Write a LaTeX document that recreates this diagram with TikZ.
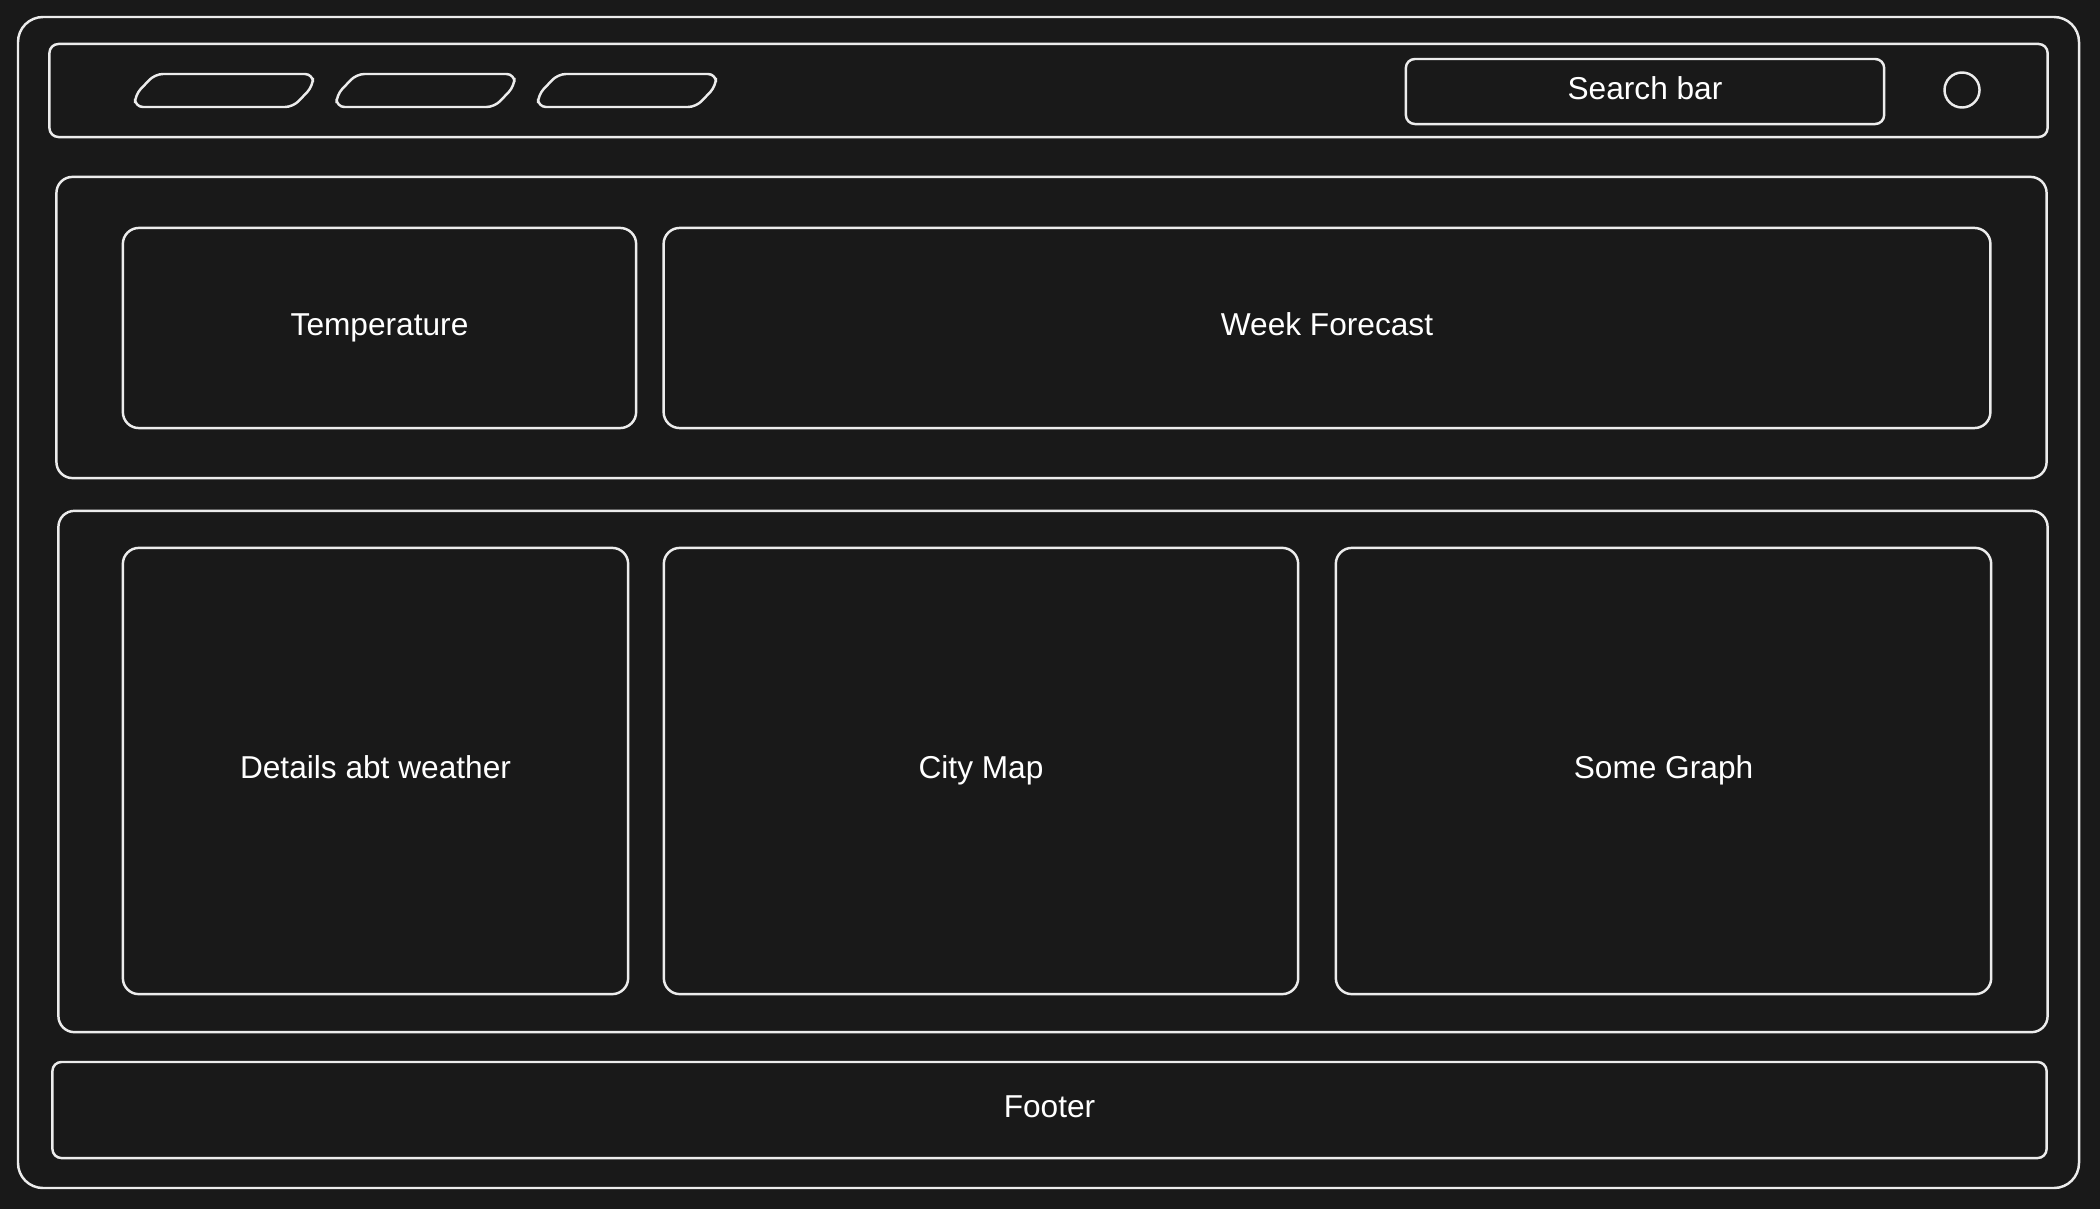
\documentclass[tikz,border=0pt]{standalone}
\usepackage{fontspec}
\setmainfont{Liberation Sans}
\usepackage{xcolor}
\usepackage{tikz}
\usetikzlibrary{positioning}
\definecolor{SketchBg}{RGB}{25,25,25}
\definecolor{SketchLine}{RGB}{236,236,236}
\tikzset{
    frame/.style={draw=SketchLine, line width=0.7pt, rounded corners=2.5mm},
    panel/.style={rectangle, draw=SketchLine, line width=0.7pt, rounded corners=1.6mm, text=white, font=\fontsize{9}{11}\selectfont, inner sep=0pt, text height=6.5pt, text depth=2.2pt},
    bar/.style={panel, rounded corners=0.9mm},
    tab/.style={draw=SketchLine, line width=0.7pt, rounded corners=0.8mm}
}
\begin{document}
\begin{tikzpicture}[x=0.01cm, y=-0.01cm]
                % Nền tối
                \fill[SketchBg] (0,0) rectangle (2100,1209);
                \useasboundingbox (0,0) rectangle (2100,1209);
                % Khung ngoài
                \draw[frame] (18,17) rectangle (2079,1188);
                % Thanh điều hướng
                \node[bar, minimum width=19.97cm, minimum height=0.93cm] (nav) at (1048.5,90.5) {};
                \foreach \x in {135,336.5,538} {
                    \draw[tab] (\x,107) -- ++(0,-12) -- ++(20,-21) -- ++(158,0) -- ++(0,12) -- ++(-20,21) -- cycle;
                }
                \node[bar, minimum width=4.78cm, minimum height=0.65cm] (search) at (1645,91.5) {Search bar};
                \node[circle, draw=SketchLine, line width=0.7pt, minimum size=0.35cm, inner sep=0pt] (avatar) at (1962,90) {};
                % Hàng trên
                \node[panel, minimum width=19.89cm, minimum height=3.01cm] (top) at (1051.5,327.5) {};
                \node[panel, minimum width=5.13cm, minimum height=2.0cm] (temp) at (379.5,328) {Temperature};
                \node[panel, minimum width=13.26cm, minimum height=2.0cm] (week) at (1327,328) {Week Forecast};
                % Hàng giữa
                \node[panel, minimum width=19.88cm, minimum height=5.21cm] (mid) at (1053,771.5) {};
                \node[panel, minimum width=5.05cm, minimum height=4.46cm] (details) at (375.5,771) {Details abt weather};
                \node[panel, minimum width=6.34cm, minimum height=4.46cm] (citymap) at (981,771) {City Map};
                \node[panel, minimum width=6.55cm, minimum height=4.46cm] (graph) at (1663.5,771) {Some Graph};
                % Chân trang
                \node[bar, minimum width=19.93cm, minimum height=0.96cm] (footer) at (1049.5,1110) {Footer};
            \end{tikzpicture}
\end{document}
